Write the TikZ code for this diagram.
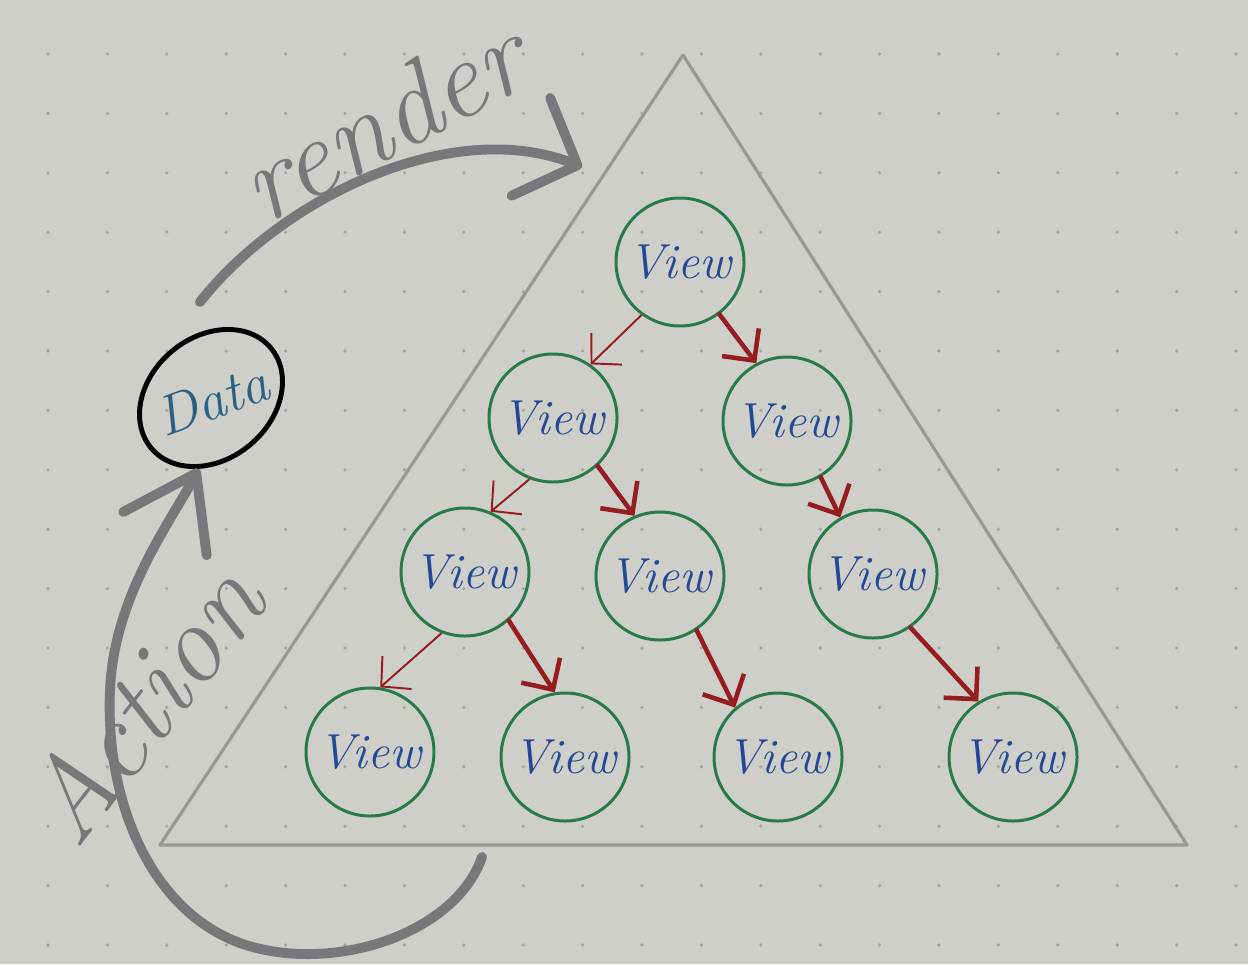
\documentclass[tikz,border=0pt]{standalone}
\usepackage{tikz}
\usetikzlibrary{shapes.geometric, arrows.meta, positioning}

\definecolor{paper}{RGB}{206,207,200}
\definecolor{dotgray}{RGB}{163,165,161}
\definecolor{trigray}{RGB}{152,153,151}
\definecolor{pengray}{RGB}{118,120,121}
\definecolor{viewgreen}{RGB}{40,122,72}
\definecolor{viewblue}{RGB}{35,72,150}
\definecolor{datablue}{RGB}{42,96,132}
\definecolor{arrowred}{RGB}{150,28,32}

\begin{document}
\begin{tikzpicture}[
        on grid,
        view/.style={draw=viewgreen, circle, line width=0.85pt, minimum size=1.28cm, inner sep=0pt, text=viewblue, font=\fontsize{14}{14}\selectfont\itshape},
        link/.style={draw=arrowred, line width=1.3pt, line cap=round, -{Straight Barb[length=2.3mm,width=4.6mm]}},
        thinlink/.style={draw=arrowred, line width=0.55pt, -{Straight Barb[length=2.1mm,width=4.4mm]}},
        pen/.style={draw=pengray, line width=2.8pt, line cap=round},
        scribble/.style={text=pengray, font=\fontsize{32}{32}\selectfont\itshape}
    ]
    \fill[paper] (0,0) rectangle (12.48,-9.64);
    \useasboundingbox (0,0) rectangle (12.48,-9.64);
    \foreach \i in {0,...,20}
        \foreach \j in {0,...,15}
            \fill[dotgray] ({0.48+0.594*\i},{-0.54-0.594*\j}) circle (0.018);

    % the tree
    \coordinate (apex) at (6.83,-0.55);
    \coordinate (baseL) at (1.60,-8.45);
    \coordinate (baseR) at (11.87,-8.45);
    \draw[trigray, line width=0.9pt, line join=round] (apex) -- (baseL) -- (baseR) -- cycle;

    \node[view] (v1) at (6.80,-2.62) {View};
    \node[view, below left=1.56cm and 1.27cm of v1] (v21) {View};
    \node[view, below right=1.59cm and 1.07cm of v1] (v22) {View};
    \node[view, below left=1.54cm and 0.88cm of v21] (v31) {View};
    \node[view, below right=1.58cm and 1.07cm of v21] (v32) {View};
    \node[view, below right=1.53cm and 0.86cm of v22] (v33) {View};
    \node[view, below left=1.80cm and 0.95cm of v31] (v41) {View};
    \node[view, below right=1.85cm and 1.00cm of v31] (v42) {View};
    \node[view, below right=1.81cm and 1.18cm of v32] (v43) {View};
    \node[view, below right=1.83cm and 1.40cm of v33] (v44) {View};

    \draw[thinlink] (v1.234) -- (v21.55);
    \draw[link] (v1.307) -- (v22.118);
    \draw[thinlink] (v21.249) -- (v31.67);
    \draw[link] (v21.313) -- (v32.113);
    \draw[link] (v22.301) -- (v33.120);
    \draw[thinlink] (v31.249) -- (v41.81);
    \draw[link] (v31.312) -- (v42.99);
    \draw[link] (v32.304) -- (v43.131);
    \draw[link] (v33.305) -- (v44.122);

    % data, render and action
    \node[draw=black, ellipse, line width=1.4pt, minimum width=1.56cm, minimum height=1.22cm, inner sep=0pt, rotate=40, text=datablue, font=\fontsize{16}{16}\selectfont\itshape] (data) at (2.11,-3.98) {\smash{\makebox[0pt]{\rotatebox{-20}{Data}}}};

    \coordinate (rstart) at (2.00,-3.02);
    \coordinate (rend) at (5.82,-1.67);
    \draw[pen, -{Straight Barb[length=5mm,width=10.5mm,round]}] (rstart) .. controls (2.80,-2.00) and (4.50,-1.15) .. (rend);
    \node[scribble, rotate=28] (rendertext) at (3.82,-1.20) {render};

    \coordinate (astart) at (4.82,-8.57);
    \draw[pen, -{Straight Barb[length=6.8mm,width=9.4mm,round]}] (astart) .. controls (4.55,-9.35) and (3.30,-9.75) .. (2.40,-9.43)
        .. controls (1.50,-9.10) and (1.05,-8.00) .. (1.10,-6.90)
        .. controls (1.14,-5.95) and (1.72,-5.20) .. (data.220);
    \node[scribble, rotate=52] (actiontext) at (1.42,-7.03) {Action};
\end{tikzpicture}
\end{document}
